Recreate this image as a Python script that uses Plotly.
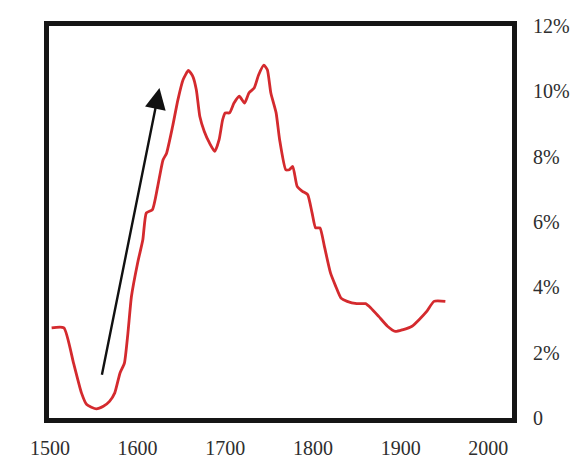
import plotly.graph_objects as go

# red series: year, share (%)
years = [1502, 1516, 1527, 1536, 1542, 1553, 1561, 1568, 1574, 1580, 1585, 1589,
         1593, 1600, 1606, 1610, 1617, 1623, 1629, 1633, 1640, 1646, 1652, 1658,
         1663, 1667, 1671, 1676, 1682, 1688, 1693, 1697, 1700, 1705, 1710, 1716,
         1722, 1727, 1733, 1738, 1744, 1748, 1752, 1758, 1762, 1769, 1773, 1777,
         1782, 1788, 1794, 1799, 1803, 1808, 1813, 1820, 1826, 1832, 1839, 1850,
         1860, 1866, 1875, 1885, 1894, 1902, 1913, 1921, 1930, 1938, 1951]
values = [2.76, 2.76, 1.68, 0.77, 0.41, 0.28, 0.36, 0.51, 0.77, 1.38, 1.68, 2.60,
          3.72, 4.74, 5.46, 6.28, 6.38, 7.09, 7.90, 8.10, 8.93, 9.74, 10.36, 10.64,
          10.46, 10.05, 9.23, 8.78, 8.42, 8.16, 8.52, 9.13, 9.34, 9.34, 9.64, 9.85,
          9.64, 9.95, 10.10, 10.50, 10.80, 10.66, 9.95, 9.34, 8.52, 7.60, 7.60, 7.70,
          7.09, 6.94, 6.84, 6.28, 5.82, 5.82, 5.26, 4.44, 4.03, 3.67, 3.57, 3.50,
          3.50, 3.37, 3.11, 2.81, 2.65, 2.70, 2.81, 3.01, 3.27, 3.57, 3.57]

# arrow from (year, %) to (year, %)
arrow_start = (1559, 1.28)
arrow_end = (1625, 10.1)

x_ticks = [1500, 1600, 1700, 1800, 1900, 2000]
y_ticks = [0, 2, 4, 6, 8, 10, 12]
y_labels = ["0", "2%", "4%", "6%", "8%", "10%", "12%"]

fig = go.Figure()

fig.add_trace(go.Scatter(
    x=years, y=values, mode="lines",
    line=dict(color="#d42a2e", width=2.8, shape="spline", smoothing=0.5),
    hoverinfo="skip", showlegend=False,
))

fig.add_annotation(
    x=arrow_end[0], y=arrow_end[1], ax=arrow_start[0], ay=arrow_start[1],
    xref="x", yref="y", axref="x", ayref="y",
    showarrow=True, arrowhead=2, arrowsize=1.75, arrowwidth=2.4,
    arrowcolor="#111111", text="",
)

axis_font = dict(family="Liberation Serif, Times New Roman, serif", size=20, color="#2e2e2e")

# page body has an 8px default margin, so margins are offset by that
fig.update_layout(
    width=587, height=472,
    margin=dict(l=41, r=83, t=18, b=62),
    paper_bgcolor="white", plot_bgcolor="white",
    xaxis=dict(
        range=[1499, 2027], tickvals=x_ticks, showgrid=False, zeroline=False,
        showline=True, linecolor="#151515", linewidth=5, mirror=True,
        ticks="", ticklabelstandoff=8, tickfont=axis_font, automargin=False,
    ),
    yaxis=dict(
        range=[0, 12], tickvals=y_ticks, ticktext=y_labels, side="right",
        showgrid=False, zeroline=False,
        showline=True, linecolor="#151515", linewidth=5, mirror=True,
        ticks="", ticklabelstandoff=12, tickfont=axis_font, automargin=False,
    ),
)

fig.write_html("out.html")
